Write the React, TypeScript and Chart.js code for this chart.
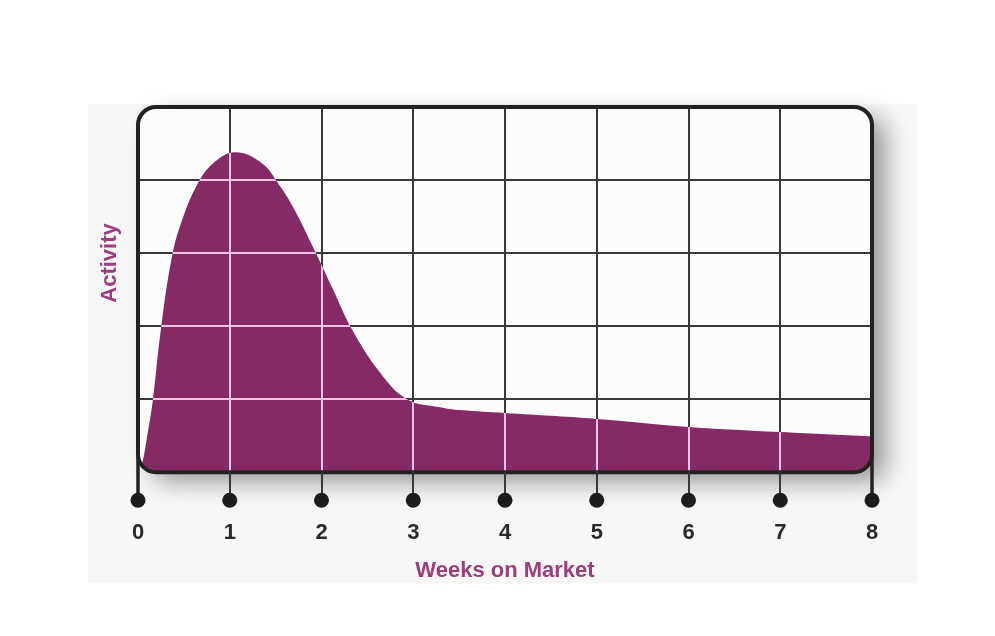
import React, { useEffect, useRef } from 'react';
import { Chart, registerables } from 'chart.js';

Chart.register(...registerables);

// ---- data ----
const weeks = [0, 0.044, 0.098, 0.163, 0.25, 0.37, 0.48, 0.65, 0.82, 1.06, 1.35, 1.53, 1.69, 1.95, 2.13, 2.33, 2.64, 2.93, 3.29, 3.51, 4, 5, 6, 7, 8];
const activity = [0.02, 0.12, 0.48, 1.0, 1.96, 2.95, 3.45, 3.95, 4.23, 4.38, 4.23, 3.95, 3.63, 2.97, 2.49, 1.96, 1.36, 1.0, 0.89, 0.85, 0.81, 0.73, 0.62, 0.55, 0.49];
const weekTickLabels = ['0', '1', '2', '3', '4', '5', '6', '7', '8'];
const xTitle = 'Weeks on Market';
const yTitle = 'Activity';

// ---- styles ----
const FONT = "'Liberation Sans', Arial, Helvetica, sans-serif";
const FILL = '#862a66';
const PINK = '#f2c4e4';
const GRID = '#383838';
const FRAME = '#222222';
const TITLE_COLOR = '#9c3d7c';
const PANEL_BG = '#f7f7f7';
const PLOT_BG = '#fcfcfc';
const RADIUS = 18;

function roundRectPath(ctx: CanvasRenderingContext2D, x: number, y: number, w: number, h: number, r: number) {
  ctx.beginPath();
  ctx.moveTo(x + r, y);
  ctx.lineTo(x + w - r, y);
  ctx.arcTo(x + w, y, x + w, y + r, r);
  ctx.lineTo(x + w, y + h - r);
  ctx.arcTo(x + w, y + h, x + w - r, y + h, r);
  ctx.lineTo(x + r, y + h);
  ctx.arcTo(x, y + h, x, y + h - r, r);
  ctx.lineTo(x, y + r);
  ctx.arcTo(x, y, x + r, y, r);
  ctx.closePath();
}

const framePlugin = {
  id: 'frameDecor',
  beforeDraw(chart: any) {
    const { ctx, chartArea: a } = chart;
    ctx.save();
    ctx.fillStyle = '#ffffff';
    ctx.fillRect(0, 0, chart.width, chart.height);
    ctx.fillStyle = PANEL_BG;
    ctx.fillRect(a.left - 50, a.top - 3, a.right - a.left + 95, a.bottom - a.top + 114);
    roundRectPath(ctx, a.left, a.top, a.right - a.left, a.bottom - a.top, RADIUS);
    ctx.shadowColor = 'rgba(0,0,0,0.38)';
    ctx.shadowBlur = 24;
    ctx.shadowOffsetX = 14;
    ctx.shadowOffsetY = 10;
    ctx.fillStyle = PLOT_BG;
    ctx.fill();
    ctx.restore();
  },
  beforeDatasetsDraw(chart: any) {
    const { ctx, chartArea: a } = chart;
    ctx.save();
    roundRectPath(ctx, a.left, a.top, a.right - a.left, a.bottom - a.top, RADIUS);
    ctx.clip();
  },
  afterDatasetsDraw(chart: any) {
    const { ctx, chartArea: a, scales } = chart;
    ctx.restore();
    const xs = scales.x;
    const ys = scales.y;
    // light grid lines over the filled area
    const meta = chart.getDatasetMeta(0);
    ctx.save();
    roundRectPath(ctx, a.left, a.top, a.right - a.left, a.bottom - a.top, RADIUS);
    ctx.clip();
    ctx.beginPath();
    meta.dataset.path(ctx);
    ctx.lineTo(a.right, a.bottom);
    ctx.lineTo(a.left, a.bottom);
    ctx.closePath();
    ctx.clip();
    ctx.strokeStyle = PINK;
    ctx.lineWidth = 2;
    ctx.beginPath();
    xs.ticks.forEach((t: any) => {
      if (t.value <= xs.min || t.value >= xs.max) return;
      const px = Math.round(xs.getPixelForValue(t.value));
      ctx.moveTo(px, a.top);
      ctx.lineTo(px, a.bottom);
    });
    ys.ticks.forEach((t: any) => {
      if (t.value <= ys.min || t.value >= ys.max) return;
      const py = Math.round(ys.getPixelForValue(t.value));
      ctx.moveTo(a.left, py);
      ctx.lineTo(a.right, py);
    });
    ctx.stroke();
    ctx.restore();

    // frame
    const dotY = a.bottom + 28;
    ctx.save();
    roundRectPath(ctx, a.left, a.top, a.right - a.left, a.bottom - a.top, RADIUS);
    ctx.strokeStyle = FRAME;
    ctx.lineWidth = 4;
    ctx.stroke();
    // side lines continuing to the end dots
    ctx.beginPath();
    ctx.moveTo(a.left, a.top + RADIUS);
    ctx.lineTo(a.left, dotY);
    ctx.moveTo(a.right, a.top + RADIUS);
    ctx.lineTo(a.right, dotY);
    ctx.lineWidth = 3.5;
    ctx.stroke();
    // stems + dots
    xs.ticks.forEach((t: any) => {
      const px = xs.getPixelForValue(t.value);
      if (t.value > xs.min && t.value < xs.max) {
        ctx.beginPath();
        ctx.moveTo(Math.round(px), a.bottom);
        ctx.lineTo(Math.round(px), dotY);
        ctx.strokeStyle = GRID;
        ctx.lineWidth = 2;
        ctx.stroke();
      }
      ctx.beginPath();
      ctx.arc(px, dotY, 7.5, 0, Math.PI * 2);
      ctx.fillStyle = '#1c1c1c';
      ctx.fill();
    });
    // y title
    ctx.translate(a.left - 28, a.top + 156);
    ctx.rotate(-Math.PI / 2);
    ctx.fillStyle = TITLE_COLOR;
    ctx.font = `bold 22px ${FONT}`;
    ctx.textAlign = 'center';
    ctx.textBaseline = 'middle';
    ctx.fillText(yTitle, 0, 0);
    ctx.restore();
  },
};

export default function App() {
  const canvasRef = useRef<HTMLCanvasElement | null>(null);

  useEffect(() => {
    const canvas = canvasRef.current;
    if (!canvas) return;
    const chart = new Chart(canvas, {
      type: 'line',
      data: {
        datasets: [
          {
            data: weeks.map((w, i) => ({ x: w, y: activity[i] })),
            fill: 'origin',
            backgroundColor: FILL,
            borderWidth: 0,
            borderColor: FILL,
            pointRadius: 0,
            tension: 0.4,
          },
        ],
      },
      options: {
        animation: false,
        responsive: false,
        devicePixelRatio: 1,
        layout: { padding: { left: 138, right: 123, top: 107, bottom: 52 } },
        plugins: { legend: { display: false }, tooltip: { enabled: false } },
        scales: {
          x: {
            type: 'linear',
            min: 0,
            max: 8,
            border: { display: false },
            grid: {
              drawTicks: false,
              lineWidth: 2,
              color: (c: any) => (c.tick && (c.tick.value === 0 || c.tick.value === 8) ? 'rgba(0,0,0,0)' : GRID),
            },
            ticks: {
              stepSize: 1,
              padding: 48,
              color: '#2a2a2a',
              font: { family: FONT, size: 22, weight: 'bold' },
              callback: (v: any) => weekTickLabels[Number(v)] ?? '',
            },
            title: {
              display: true,
              text: xTitle,
              color: TITLE_COLOR,
              font: { family: FONT, size: 22, weight: 'bold' },
              padding: { top: -37, bottom: 0 },
            },
          },
          y: {
            min: 0,
            max: 5,
            border: { display: false },
            grid: {
              drawTicks: false,
              lineWidth: 2,
              color: (c: any) => (c.tick && (c.tick.value === 0 || c.tick.value === 5) ? 'rgba(0,0,0,0)' : GRID),
            },
            ticks: { display: false, stepSize: 1 },
          },
        },
      },
      plugins: [framePlugin],
    });
    return () => chart.destroy();
  }, []);

  return (
    <div style={{ position: 'fixed', left: 0, top: 0, width: 995, height: 636, background: '#ffffff' }}>
      <canvas ref={canvasRef} width={995} height={636} style={{ display: 'block', width: 995, height: 636 }} />
    </div>
  );
}
